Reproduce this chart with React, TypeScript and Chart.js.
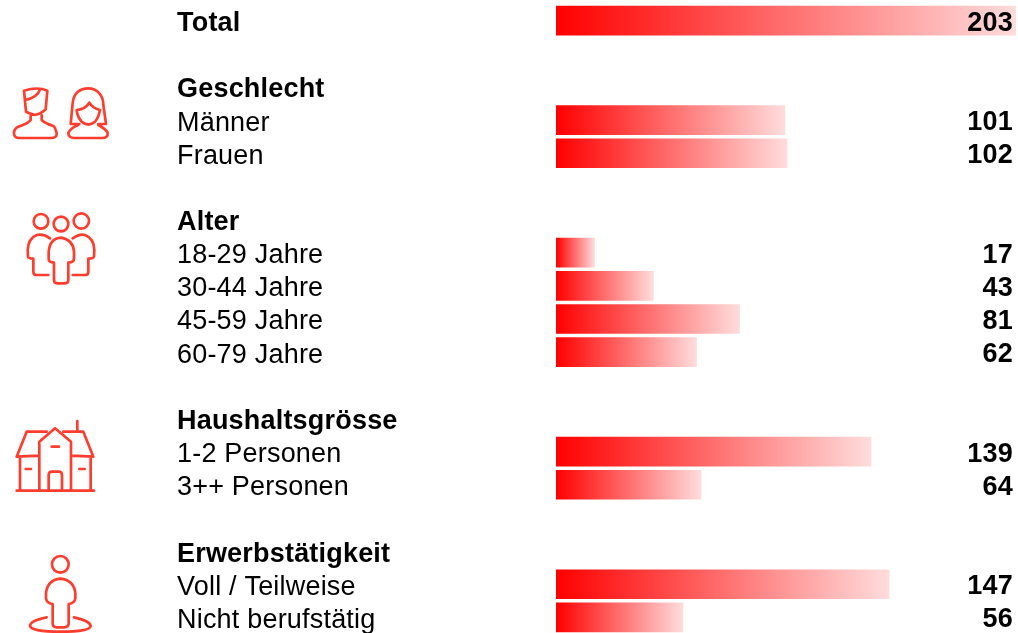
import React, { useEffect, useRef } from "react";
import { Chart, registerables } from "chart.js";

Chart.register(...registerables);

const categories = ["Total", "", "Geschlecht", "Männer", "Frauen", "", "Alter", "18-29 Jahre", "30-44 Jahre", "45-59 Jahre", "60-79 Jahre", "", "Haushaltsgrösse", "1-2 Personen", "3++ Personen", "", "Erwerbstätigkeit", "Voll / Teilweise", "Nicht berufstätig"];
const values = [203, null, null, 101, 102, null, null, 17, 43, 81, 62, null, null, 139, 64, null, null, 147, 56];
const boldLabels = ["Total", "Geschlecht", "Alter", "Haushaltsgrösse", "Erwerbstätigkeit"];

const FONT = "'Liberation Sans', Arial, sans-serif";
const ICON_COLOR = "#ff3d2e";

// Icon outlines, in 3x units
const iconsTop = [
  "M72 62 C95 55 120 52 142 62 L137 118 Q125 130 105 135 Q85 130 78 125 Z M75 90 C100 85 115 75 120 58 M92 138 L92 150 Q85 160 55 170 Q42 175 42 190 Q42 205 60 204 L150 204 Q172 205 170 190 Q165 170 160 168 Q135 160 125 150 L125 135",
  "M212 162 L218 100 C220 70 240 55 265 55 C290 55 310 75 310 105 L318 162 M212 162 L238 162 M295 162 L318 162 M230 120 Q255 118 268 98 Q278 115 300 120 Q295 145 285 155 Q265 172 245 155 Q232 140 230 120 M235 165 Q215 172 205 188 Q205 205 225 204 L305 204 Q325 205 323 188 Q315 175 295 165",
  "M145 454 A22 22 0 1 1 101 454 A22 22 0 1 1 145 454 M205 462 A22 22 0 1 1 161 462 A22 22 0 1 1 205 462 M267 453 A23 23 0 1 1 221 453 A23 23 0 1 1 267 453",
  "M150 505 Q130 490 110 495 Q85 505 83 540 L84 560 Q85 565 100 566 L100 605 Q100 615 110 615 L145 615 M218 505 Q240 490 255 495 Q282 505 283 540 L282 560 Q280 566 265 566 L265 605 Q265 615 255 615 L218 615",
  "M162 578 Q145 578 146 565 L146 545 Q150 505 183 503 Q220 510 222 545 L222 565 Q222 578 205 578 L205 630 Q205 640 195 640 L172 640 Q162 640 162 630 Z",
];
const iconsBottom = [
  "M50 242 L282 242 M60 140 L60 242 M272 140 L272 242 M140 65 L80 65 L50 140 L118 137 M190 65 L250 65 L280 140 L215 137 M118 242 L118 95 L165 55 L213 95 L213 242 M146 242 L146 195 Q146 185 156 185 L176 185 Q186 185 186 195 L186 242 M155 110 L177 110 M77 177 L93 177 M238 177 L254 177 M232 33 L232 65",
  "M206 463 A25 25 0 1 1 156 463 A25 25 0 1 1 206 463 M158 582 Q140 580 138 565 L138 550 Q142 510 181 506 Q222 510 226 550 L226 565 Q224 580 206 582 L206 640 Q206 652 192 652 L170 652 Q158 652 158 640 Z M140 622 Q90 632 90 648 Q95 665 181 665 Q270 665 272 648 Q270 632 222 622",
];

const overlay = {
  id: "overlay",
  beforeDraw(chart: any) {
    chart.ctx.letterSpacing = "0.2px";
  },
  afterDatasetsDraw(chart: any) {
    const { ctx } = chart;
    const meta = chart.getDatasetMeta(0);
    ctx.save();
    ctx.font = `bold 27px ${FONT}`;
    ctx.fillStyle = "#000";
    ctx.textAlign = "right";
    ctx.textBaseline = "middle";
    values.forEach((v, i) => {
      if (v == null) return;
      ctx.fillText(String(v), 1013, meta.data[i].y + 2.5);
    });
    ctx.restore();

    const drawIcons = (paths: string[], dy: number) => {
      ctx.save();
      ctx.translate(0, dy);
      ctx.scale(1 / 3, 1 / 3);
      ctx.strokeStyle = ICON_COLOR;
      ctx.lineWidth = 8;
      ctx.lineJoin = "round";
      ctx.lineCap = "round";
      paths.forEach((p) => ctx.stroke(new Path2D(p)));
      ctx.restore();
    };
    drawIcons(iconsTop, 70);
    drawIcons(iconsBottom, 410);
  },
};

export default function App() {
  const ref = useRef<HTMLCanvasElement>(null);
  useEffect(() => {
    const chart = new Chart(ref.current!, {
      type: "bar",
      data: {
        labels: categories,
        datasets: [
          {
            data: values,
            barThickness: 29,
            backgroundColor: (c: any) => {
              const v = c.raw;
              const x = c.chart.scales.x;
              if (v == null || !x) return "#ff0000";
              const x0 = x.getPixelForValue(0);
              const x1 = x.getPixelForValue(v);
              if (!Number.isFinite(x0) || !Number.isFinite(x1)) return "#ff0000";
              const g = c.chart.ctx.createLinearGradient(x0, 0, x1, 0);
              g.addColorStop(0, "#ff0000");
              g.addColorStop(1, "#ffdcdc");
              return g;
            },
          },
        ],
      },
      options: {
        indexAxis: "y",
        animation: false,
        responsive: false,
        layout: { padding: { left: 177, right: 2, top: 4, bottom: 6 } },
        plugins: { legend: { display: false }, tooltip: { enabled: false } },
        scales: {
          x: { display: false, min: 0, max: 203 },
          y: {
            afterFit: (s: any) => {
              s.width = 379;
              s.paddingTop = 0;
              s.paddingBottom = 0;
            },
            grid: { display: false, drawTicks: false },
            border: { display: false },
            ticks: {
              autoSkip: false,
              crossAlign: "far",
              padding: 0,
              labelOffset: 3,
              color: "#000",
              font: (c: any) => ({
                family: FONT,
                size: 27,
                weight: boldLabels.includes(categories[c.index]) ? "bold" : "normal",
              }),
            },
          },
        },
      },
      plugins: [overlay],
    } as any);
    return () => chart.destroy();
  }, []);
  return (
    <div style={{ position: "absolute", left: 0, top: 0, width: 1018, height: 633, overflow: "hidden", background: "#fff" }}>
      <canvas ref={ref} width={1018} height={640} style={{ display: "block" }} />
    </div>
  );
}
